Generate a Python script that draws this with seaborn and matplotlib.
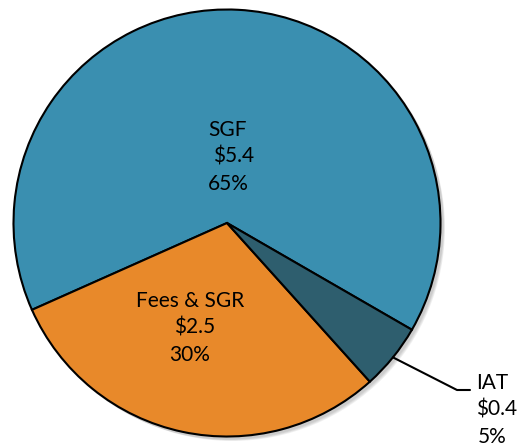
import numpy as np
import matplotlib
matplotlib.use("Agg")
import matplotlib.pyplot as plt
import seaborn as sns
from matplotlib.patches import Circle

# Data
categories = ["SGF", "Fees & SGR", "IAT"]
amounts = ["$5.4", "$2.5", "$0.4"]
percents = [65, 30, 5]
colors = ["#3A8FB0", "#E8892A", "#2E5E6E"]

sns.set_theme(style="white")
plt.rcParams['font.family'] = ['Lato', 'DejaVu Sans']

W, H = 520, 446
fig = plt.figure(figsize=(W / 100, H / 100), dpi=100)
ax = fig.add_axes([0, 0, 1, 1])
ax.set_xlim(0, W)
ax.set_ylim(0, H)
ax.set_aspect('equal')
ax.axis('off')

cx, cy, r = 227, H - 223, 213.5

# soft shadow
for i, a in enumerate([0.05, 0.05, 0.05, 0.06]):
    off = 2 + i
    ax.add_patch(Circle((cx + off, cy - off), r + 1 - i * 0.5, color="black", alpha=a, lw=0, zorder=0))

wedges, _ = ax.pie(percents, colors=colors, startangle=-30, counterclock=True,
                   center=(cx, cy), radius=r, frame=True,
                   wedgeprops=dict(edgecolor="black", linewidth=1.5))
for w in wedges:
    w.set_zorder(2)
ax.set_xlim(0, W)
ax.set_ylim(0, H)
ax.axis('off')

fs = 15
step = 26.5
label_pos = [(228, H - 130), (190, H - 301), (492, H - 383)]
dx_amt = [6, 5, 5]
for i, (cat, amt, pct) in enumerate(zip(categories, amounts, percents)):
    x, y = label_pos[i]
    ax.text(x, y, cat, ha="center", va="center", fontsize=fs, color="black", zorder=5)
    ax.text(x + dx_amt[i], y - step, amt, ha="center", va="center", fontsize=fs, color="black", zorder=5)
    ax.text(x, y - 2 * step - 1, f"{pct}%", ha="center", va="center", fontsize=fs, color="black", zorder=5)

# leader line for IAT from wedge midpoint
w = wedges[2]
mid = np.deg2rad((w.theta1 + w.theta2) / 2)
px, py = cx + r * np.cos(mid), cy + r * np.sin(mid)
ax.plot([px, 457, 470], [py, H - 390, H - 390], color="black", lw=1.5, zorder=3)

fig.savefig("out.png", dpi=100)
